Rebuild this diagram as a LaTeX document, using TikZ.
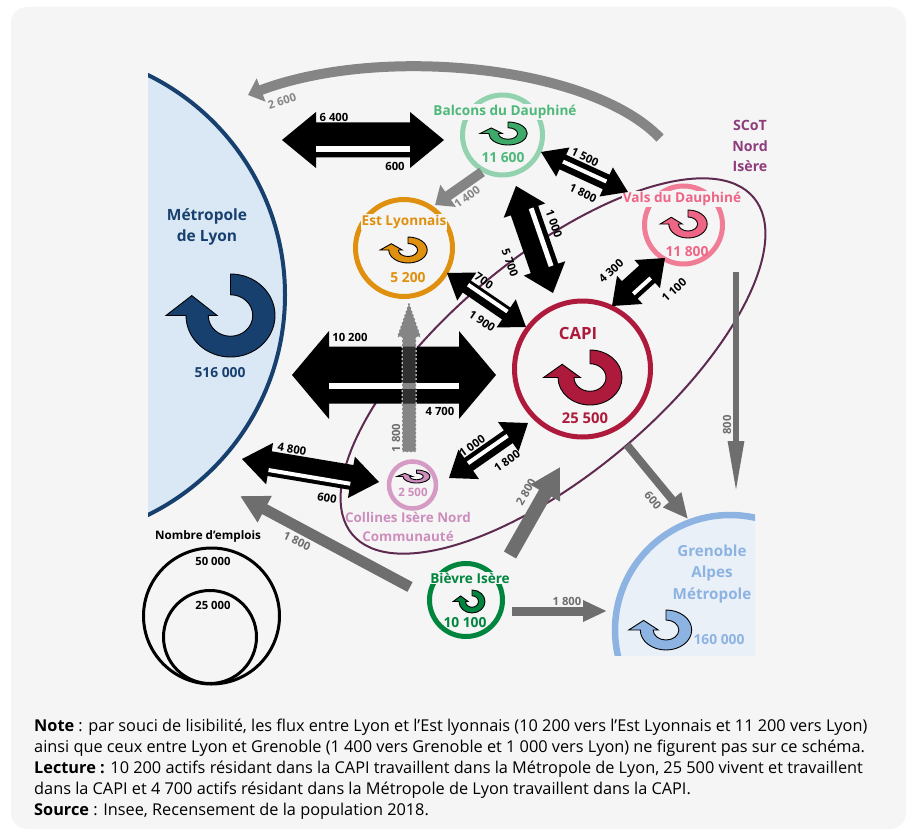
\documentclass[tikz,border=0pt]{standalone}
\usepackage{fontspec}
\setmainfont{Open Sans}
\usetikzlibrary{arrows.meta,calc}
\definecolor{panelGray}{HTML}{F5F5F5}
\definecolor{lyonBlue}{HTML}{17406F}
\definecolor{lyonFill}{HTML}{DAE8F6}
\definecolor{grenBlue}{HTML}{8DB3E2}
\definecolor{grenFill}{HTML}{EAF0F8}
\definecolor{balcGreen}{HTML}{4DB87A}
\definecolor{balcRing}{HTML}{93D2AE}
\definecolor{balcIcon}{HTML}{3DAA6A}
\definecolor{estOrange}{HTML}{DE900E}
\definecolor{valsPink}{HTML}{EE6586}
\definecolor{valsRing}{HTML}{F07C96}
\definecolor{capiRed}{HTML}{AD1A3C}
\definecolor{collPink}{HTML}{CD8EBD}
\definecolor{collRing}{HTML}{D59BC5}
\definecolor{bievGreen}{HTML}{00853F}
\definecolor{scotPurple}{HTML}{8E3D7C}
\definecolor{scotLine}{HTML}{5E2A50}
\definecolor{flowGray}{HTML}{6E6E6E}
\definecolor{arcGray}{HTML}{858585}
\definecolor{dashGray}{HTML}{4A4A4A}

\tikzset{
  ring/.style={circle,draw=#1,line width=5pt,inner sep=0pt},
  place/.style={font=\bfseries\fontsize{13.6}{15}\selectfont,align=center,inner sep=1pt},
  count/.style={font=\bfseries\fontsize{13.8}{15}\selectfont,inner sep=1pt},
  qty/.style={font=\bfseries\fontsize{11.3}{13}\selectfont,inner sep=0pt},
  notetxt/.style={anchor=west,inner sep=0pt,font=\fontsize{16.3}{18}\selectfont}
}

% double flow between two tips: head length, head half width, upper band, gap, lower band
\newcommand{\dualflow}[7]{%
  \path (#1); \pgfgetlastxy{\fax}{\fay}
  \path (#2); \pgfgetlastxy{\fbx}{\fby}
  \pgfmathsetmacro{\fang}{atan2((\fby)-(\fay),(\fbx)-(\fax))}
  \pgfmathsetmacro{\flen}{veclen((\fbx)-(\fax),(\fby)-(\fay))}
  \pgfmathsetmacro{\fhw}{(#5+#6+#7)/2}
  \begin{scope}[shift={(#1)},rotate=\fang,x=1pt,y=1pt]
    \fill[black] (0,0) -- (#3,#4) -- (#3,\fhw) -- (\flen-#3,\fhw) -- (\flen-#3,#4) -- (\flen,0)
      -- (\flen-#3,-#4) -- (\flen-#3,-\fhw) -- (#3,-\fhw) -- (#3,-#4) -- cycle;
    \fill[white] (#3,\fhw-#5) rectangle (\flen-#3,\fhw-#5-#6);
  \end{scope}}

% loop symbol: centre, x size, y size, colour
\newcommand{\cycleicon}[5]{%
  \begin{scope}[shift={(#1,#2)},x=#3pt,y=#4pt]
    \filldraw[fill=#5,draw=black,line width=0.9pt] (0,1) arc[start angle=90,end angle=-180,radius=1]
      -- (-1.45,0) -- (-0.87,0.48) -- (-0.3,0) -- (-0.5,0)
      arc[start angle=180,end angle=450,radius=0.5] -- cycle;
  \end{scope}}

\begin{document}
\begin{tikzpicture}[x=1pt,y=-1pt]
  \useasboundingbox (0,0) rectangle (913,832);
  \fill[white] (0,0) rectangle (913,832);
  \fill[panelGray,rounded corners=16pt] (11,7) rectangle (906,829);

  % metropoles
  \begin{scope}
    \clip (148,0) rectangle (913,832);
    \filldraw[fill=lyonFill,draw=lyonBlue,line width=4pt] (40,295) circle[radius=245];
  \end{scope}
  \begin{scope}
    \clip (0,0) rectangle (755,655);
    \filldraw[fill=grenFill,draw=grenBlue,line width=6.5pt] (730,630) circle[radius=115];
  \end{scope}

  % SCoT perimeter
  \draw[scotLine,line width=2pt,rotate around={40:(553,366)}] (553,366) ellipse[x radius=262,y radius=108];

  % territories
  \node[ring=balcRing,minimum size=80pt] (balcons) at (502.5,135) {};
  \node[ring=estOrange,minimum size=97pt] (estlyon) at (404,248) {};
  \node[ring=valsRing,minimum size=78pt] (vals) at (683.5,225) {};
  \node[ring=capiRed,minimum size=136pt] (capi) at (582.5,369) {};
  \node[ring=collRing,minimum size=47pt,line width=4.5pt] (collines) at (412.5,485) {};
  \node[ring=bievGreen,minimum size=73pt] (bievre) at (466,600) {};

  \node[place,text=lyonBlue,font=\bfseries\fontsize{15.5}{21}\selectfont] (lyonname) at (207,227) {Métropole\\de Lyon};
  \node[count,text=lyonBlue] (lyoncount) at (220,373) {516 000};
  \node[place,text=grenBlue,font=\bfseries\fontsize{15.2}{21.5}\selectfont] (grenname) at (712,574) {Grenoble\\Alpes\\Métropole};
  \node[count,text=grenBlue] (grencount) at (719,640) {160 000};
  \node[place,text=balcGreen,fill=panelGray] (balcname) at (505,112) {Balcons du Dauphiné};
  \node[count,text=balcGreen] (balccount) at (503,158) {11 600};
  \node[place,text=estOrange,fill=panelGray] (estname) at (404,222) {Est Lyonnais};
  \node[count,text=estOrange] (estcount) at (408,278) {5 200};
  \node[place,text=valsPink,fill=panelGray] (valsname) at (682,199) {Vals du Dauphiné};
  \node[count,text=valsPink] (valscount) at (687,252) {11 800};
  \node[place,text=capiRed,font=\bfseries\fontsize{16.8}{18}\selectfont] (capiname) at (578,333) {CAPI};
  \node[count,text=capiRed,font=\bfseries\fontsize{14.8}{16}\selectfont] (capicount) at (585,418) {25 500};
  \node[count,text=collPink,font=\bfseries\fontsize{11.5}{13}\selectfont] (collcount) at (413,492) {2 500};
  \node[place,text=collPink,font=\bfseries\fontsize{13.4}{19}\selectfont] (collname) at (408,527) {Collines Isère Nord\\Communauté};
  \node[place,text=bievGreen,fill=panelGray] (bievname) at (470,578) {Bièvre Isère};
  \node[count,text=bievGreen] (bievcount) at (465,623) {10 100};
  \node[place,text=scotPurple,font=\bfseries\fontsize{14.2}{20.5}\selectfont] (scotname) at (750,146) {SCoT\\Nord\\Isère};

  \cycleicon{230.5}{315.5}{44.5}{41.5}{lyonBlue}
  \cycleicon{590}{377.5}{32}{27.5}{capiRed}
  \cycleicon{508}{133.5}{19.2}{11.5}{balcIcon}
  \cycleicon{408}{250}{19.2}{13}{estOrange}
  \cycleicon{688}{224}{19.2}{14}{valsPink}
  \cycleicon{416.5}{476.5}{13.5}{6.5}{collPink}
  \cycleicon{472}{601.5}{13}{11.5}{bievGreen}
  \cycleicon{666}{630}{25.7}{20}{grenBlue}

  % two-way flows
  \coordinate (lyBalA) at (282,140);  \coordinate (lyBalB) at (444,140);
  \coordinate (lyCapA) at (292,375);  \coordinate (lyCapB) at (496,375);
  \coordinate (lyColA) at (242,459);  \coordinate (lyColB) at (379,482);
  \coordinate (balValA) at (541,152); \coordinate (balValB) at (628,192);
  \coordinate (balCapA) at (516,186); \coordinate (balCapB) at (553,293);
  \coordinate (estCapA) at (447,273); \coordinate (estCapB) at (526,327);
  \coordinate (capValA) at (612,306); \coordinate (capValB) at (665,258);
  \coordinate (colCapA) at (449,478); \coordinate (colCapB) at (528,423);
  \dualflow{lyBalA}{lyBalB}{34}{28}{24}{6}{5}
  \dualflow{lyCapA}{lyCapB}{37}{44}{36}{6}{15}
  \dualflow{lyColA}{lyColB}{28}{21}{17}{4}{4}
  \dualflow{balValA}{balValB}{24}{16}{5.5}{4}{6.5}
  \dualflow{balCapA}{balCapB}{26}{22}{5}{5}{19}
  \dualflow{estCapA}{estCapB}{24}{17}{3}{4}{7.5}
  \dualflow{capValA}{capValB}{24}{19}{15}{4}{4.5}
  \dualflow{colCapA}{colCapB}{24}{18}{4.5}{4}{7}

  % one-way flows
  \coordinate (arcTail) at (660,138);  \coordinate (arcTip) at (248,95);
  \coordinate (balEstT) at (482,172);  \coordinate (balEstH) at (435,205);
  \coordinate (colEstT) at (409,452);  \coordinate (colEstH) at (409,302);
  \coordinate (valGrenT) at (736,272); \coordinate (valGrenH) at (736,493);
  \coordinate (capGrenT) at (627,445); \coordinate (capGrenH) at (688,519);
  \coordinate (bieCapT) at (510,555);  \coordinate (bieCapH) at (560,467);
  \coordinate (bieLyT) at (410,587);   \coordinate (bieLyH) at (240,496);
  \coordinate (bieGrenT) at (512,611); \coordinate (bieGrenH) at (607,611);
  \draw[arcGray,line width=10pt,-{Triangle[length=14pt,width=24pt]}] (arcTail) .. controls (590,65) and (380,45) .. (arcTip);
  \draw[arcGray,line width=10pt,-{Triangle[length=16pt,width=26pt]}] (balEstT) -- (balEstH);
  \draw[flowGray,line width=6pt,-{Triangle[length=52pt,width=15pt]}] (valGrenT) -- (valGrenH);
  \draw[flowGray,line width=8pt,-{Triangle[length=25pt,width=22pt]}] (capGrenT) -- (capGrenH);
  \draw[flowGray,line width=14pt,-{Triangle[length=30pt,width=32pt]}] (bieCapT) -- (bieCapH);
  \draw[flowGray,line width=11pt,-{Triangle[length=28pt,width=28pt]}] (bieLyT) -- (bieLyH);
  \draw[flowGray,line width=9pt,-{Triangle[length=24pt,width=20pt]}] (bieGrenT) -- (bieGrenH);
  \filldraw[fill=dashGray,fill opacity=0.65,draw=white,dash pattern=on 2pt off 2pt,line width=1pt]
    ($(colEstT)+(-7,0)$) -- ($(colEstH)+(-7,35)$) -- ($(colEstH)+(-12,35)$) -- (colEstH)
    -- ($(colEstH)+(12,35)$) -- ($(colEstH)+(7,35)$) -- ($(colEstT)+(7,0)$) -- cycle;

  % flow values
  \node[qty] (q6400) at (334,117) {6 400};
  \node[qty] (q600a) at (395,166) {600};
  \node[qty] (q10200) at (350,337) {10 200};
  \node[qty] (q4700) at (440,411) {4 700};
  \node[qty,rotate=-9.5] (q4800) at (292,449) {4 800};
  \node[qty,rotate=-9.5] (q600b) at (327,498) {600};
  \node[qty,rotate=-25] (q1500) at (585,157) {1 500};
  \node[qty,rotate=-25] (q1800a) at (583,193) {1 800};
  \node[qty,rotate=-70] (q1000a) at (554,224) {1 000};
  \node[qty,rotate=-70] (q5700) at (510,263) {5 700};
  \node[qty,rotate=-34] (q700) at (484,281) {700};
  \node[qty,rotate=-34] (q1900) at (482,321) {1 900};
  \node[qty,rotate=42] (q4300) at (611,271) {4 300};
  \node[qty,rotate=42] (q1100) at (674,290) {1 100};
  \node[qty,rotate=35] (q1000b) at (472,446) {1 000};
  \node[qty,rotate=35] (q1800b) at (507,461) {1 800};
  \node[qty,text=arcGray,rotate=17] (q2600) at (282,101) {2 600};
  \node[qty,text=arcGray,rotate=36] (q1400) at (467,197) {1 400};
  \node[qty,text=flowGray,rotate=90] (q1800c) at (396,438) {1 800};
  \node[qty,text=flowGray,rotate=90] (q800) at (727,425) {800};
  \node[qty,text=flowGray,rotate=-50] (q600c) at (653,500) {600};
  \node[qty,text=flowGray,rotate=60] (q2800) at (526,492) {2 800};
  \node[qty,text=flowGray,rotate=-25] (q1800d) at (297,541) {1 800};
  \node[qty,text=flowGray] (q1800e) at (567,601) {1 800};

  % legend
  \node[font=\bfseries\fontsize{11.7}{13}\selectfont] (legtitle) at (208,536) {Nombre d’emplois};
  \node[circle,draw=black,line width=3pt,minimum size=136pt,inner sep=0pt] (leg50) at (211.5,616) {};
  \node[circle,draw=black,line width=3pt,minimum size=93pt,inner sep=0pt] (leg25) at (210,637) {};
  \node[qty] (leg50v) at (213,561) {50 000};
  \node[qty] (leg25v) at (213,605) {25 000};

  % note
  \node[notetxt] (note1) at (34,727) {\textbf{Note} : par souci de lisibilité, les flux entre Lyon et l’Est lyonnais (10 200 vers l’Est Lyonnais et 11 200 vers Lyon)};
  \node[notetxt] (note2) at (34,748) {ainsi que ceux entre Lyon et Grenoble (1 400 vers Grenoble et 1 000 vers Lyon) ne figurent pas sur ce schéma.};
  \node[notetxt] (note3) at (34,769) {\textbf{Lecture :} 10 200 actifs résidant dans la CAPI travaillent dans la Métropole de Lyon, 25 500 vivent et travaillent};
  \node[notetxt] (note4) at (34,790) {dans la CAPI et 4 700 actifs résidant dans la Métropole de Lyon travaillent dans la CAPI.};
  \node[notetxt] (note5) at (34,811) {\textbf{Source} : Insee, Recensement de la population 2018.};
\end{tikzpicture}
\end{document}
